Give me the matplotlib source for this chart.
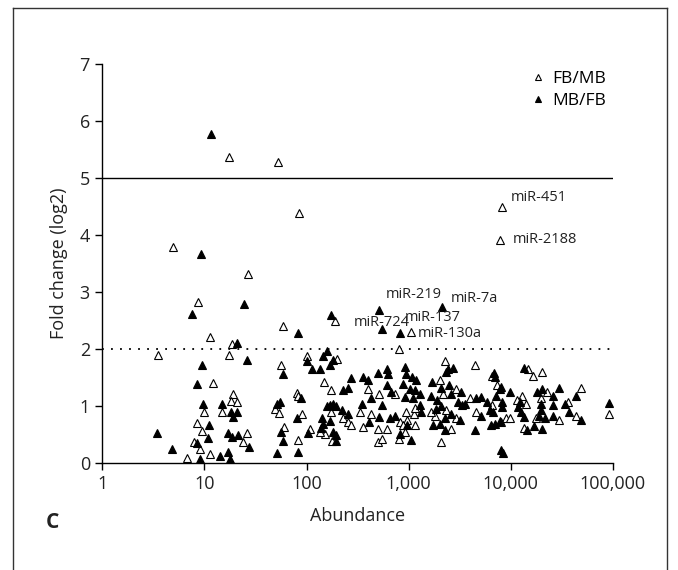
import matplotlib
matplotlib.use("Agg")
import matplotlib.pyplot as plt
from matplotlib.lines import Line2D
from matplotlib.ticker import FixedLocator, FixedFormatter

plt.rcParams["font.family"] = ["Open Sans", "DejaVu Sans"]

# FB/MB ratio (open triangles): abundance, log2 fold change
fbmb_x = [17.3, 52.5, 83.8, 4.9, 26.8, 8.6, 11.3, 3.5, 58.5, 191, 18.5, 17.3,
          8130, 7810, 1062, 801,
          12, 9.9, 8.4, 9.4, 7.9, 9.0, 6.8,
          18.9, 18.0, 20.7, 14.7, 25.9, 23.6, 11.3,
          49, 54, 56.1, 60.4, 81.6, 79.8, 82, 89.3, 101,
          197, 148, 172, 401, 731, 513, 337, 426, 353, 502, 615, 818, 805, 495,
          542, 172, 228, 255, 275, 108, 151, 135, 176,
          2256, 4436, 6607, 2015, 2172, 2937, 3963, 7330, 6600, 8920, 4604, 2624,
          2094, 2937, 1800, 1671, 2344, 951, 1122, 965, 1148, 881, 916, 1150,
          14730, 16490, 20370, 12980, 11480, 13990, 9750, 8090, 22800, 19920,
          17780, 29630, 36300, 43150, 49090, 13370, 91400]
fbmb_y = [5.37, 5.28, 4.38, 3.78, 3.31, 2.82, 2.20, 1.90, 2.40, 2.49, 2.09, 1.90,
          4.48, 3.91, 2.29, 1.99,
          1.40, 0.90, 0.70, 0.55, 0.37, 0.24, 0.09,
          1.20, 1.08, 1.07, 0.90, 0.53, 0.36, 0.16,
          0.94, 0.88, 1.71, 0.63, 0.40, 1.23, 1.18, 0.86, 1.87,
          1.83, 1.41, 1.27, 1.30, 1.20, 1.21, 0.90, 0.86, 0.63, 0.60, 0.59, 0.71, 0.41, 0.36,
          0.41, 0.90, 0.78, 0.71, 0.66, 0.59, 0.51, 0.54, 0.38,
          1.78, 1.72, 1.52, 1.45, 1.21, 1.30, 1.13, 1.37, 1.01, 0.78, 0.89, 0.60,
          0.37, 0.79, 0.82, 0.89, 0.92, 0.89, 0.86, 0.75, 0.66, 0.66, 0.54, 0.97,
          1.65, 1.52, 1.59, 1.17, 1.10, 1.04, 0.78, 0.71, 1.24, 1.14,
          0.78, 0.75, 1.07, 0.83, 1.32, 0.61, 0.86]

# MB/FB ratio (filled triangles)
mbfb_x = [11.6, 9.2, 7.6, 24.3, 21, 26.3, 175, 82, 507, 2120, 548, 824,
          9.4, 8.4, 9.7, 3.45, 8.4, 4.77, 9.0, 10.9, 11.1,
          14.7, 18.2, 20.9, 18.9, 17.1, 18.5, 21.4, 27.4, 14.2, 17.1, 17.8,
          50.8, 54.8, 59, 56, 58.2, 50.8, 82.8, 87.3, 81, 104, 100,
          157, 145.5, 182, 112, 135, 169, 275, 228, 255, 353, 401, 502, 615, 629,
          916, 937, 615, 664, 881, 423, 345, 542, 513, 410, 653, 731, 818, 973,
          169, 182, 194, 157, 220, 255, 169, 146, 137, 182, 194, 194, 143,
          1089, 1192, 2431, 2720, 2344, 6808, 6966, 1710, 1025, 1148, 1285, 1104,
          916, 1671, 2094, 2485, 1897, 2624, 3289, 3043, 3290, 3540, 4604, 5156,
          5851, 7230, 7790, 6220, 6700, 7790, 6460, 6966, 5156, 4436, 2624, 2256,
          2015, 2256, 3162, 1733, 1841, 2094, 1334, 1303, 1065, 8090, 8400,
          13370, 8090, 9750, 12210, 11750, 12700, 13370, 8280, 8280, 18040, 20370,
          25880, 29630, 19920, 19920, 18880, 21450, 25880, 25880, 33660, 37150,
          43150, 49090, 14420, 16750, 20370, 91400]
mbfb_y = [5.77, 3.66, 2.61, 2.79, 2.11, 1.80, 2.59, 2.28, 2.68, 2.74, 2.35, 2.28,
          1.72, 1.39, 1.04, 0.52, 0.34, 0.25, 0.06, 0.43, 0.66,
          1.04, 0.90, 0.90, 0.80, 0.53, 0.45, 0.48, 0.28, 0.12, 0.19, 0.06,
          1.04, 1.07, 1.56, 0.54, 0.38, 0.18, 0.19, 1.13, 0.79, 0.53, 1.78,
          1.97, 1.87, 1.80, 1.64, 1.65, 1.72, 1.48, 1.27, 1.31, 1.50, 1.45, 1.58, 1.65, 1.56,
          1.68, 1.55, 1.37, 1.25, 1.39, 1.14, 1.04, 1.01, 0.80, 0.71, 0.79, 0.83, 0.50, 0.66,
          1.01, 1.04, 1.00, 1.00, 0.92, 0.86, 0.73, 0.69, 0.61, 0.54, 0.48, 0.38, 0.78,
          1.50, 1.45, 1.65, 1.66, 1.59, 1.58, 1.50, 1.42, 1.30, 1.27, 1.20, 1.14,
          1.15, 1.18, 1.31, 1.36, 1.11, 1.20, 1.24, 1.07, 1.01, 1.04, 1.14, 1.15,
          1.07, 1.17, 1.30, 0.92, 0.89, 0.73, 0.67, 0.69, 0.83, 0.57, 0.85, 0.78,
          0.69, 0.57, 0.75, 0.66, 0.95, 1.00, 0.89, 1.01, 0.40, 0.22, 0.18,
          1.66, 1.33, 1.24, 1.07, 0.98, 0.89, 0.80, 0.98, 1.07, 1.25, 1.30,
          1.18, 1.31, 1.04, 0.92, 0.83, 0.78, 1.01, 0.83, 1.04, 0.89,
          1.18, 0.75, 0.57, 0.65, 0.59, 1.05]

# labelled miRNAs: (name, x, y, text offset in points)
labels = [
    ("miR-451", 8130, 4.48, (6.5, 7)),
    ("miR-2188", 7810, 3.91, (9, 0)),
    ("miR-219", 507, 2.68, (5, 11)),
    ("miR-7a", 2120, 2.74, (6.5, 6)),
    ("miR-724", 548, 2.35, (-20, 4.5)),
    ("miR-137", 824, 2.28, (3, 11)),
    ("miR-130a", 1062, 2.29, (4.5, -0.5)),
]

xticks = [1, 10, 100, 1000, 10000, 100000]
xticklabels = ["1", "10", "100", "1,000", "10,000", "100,000"]
yticks = list(range(8))

fig = plt.figure(figsize=(6.78, 5.70), dpi=100)
ax = fig.add_axes([0.151, 0.188, 0.753, 0.700])

ax.axhline(5, color="black", lw=1.0, zorder=1)
ax.axhline(2, color="black", lw=1.3, ls=(0, (1, 4)), zorder=1)

ax.plot(fbmb_x, fbmb_y, ls="none", marker="^", ms=6.2, mfc="white",
        mec="black", mew=0.8, zorder=3)
ax.plot(mbfb_x, mbfb_y, ls="none", marker="^", ms=6.2, mfc="black",
        mec="black", mew=0.8, zorder=3)

for name, x, y, off in labels:
    ax.annotate(name, (x, y), xytext=off, textcoords="offset points",
                ha="left", va="center", fontsize=10.5, color="#222222", zorder=4)

ax.set_xscale("log")
ax.set_xlim(1, 100000)
ax.set_ylim(0, 7)
ax.xaxis.set_major_locator(FixedLocator(xticks))
ax.xaxis.set_major_formatter(FixedFormatter(xticklabels))
ax.xaxis.set_minor_locator(FixedLocator([]))
ax.set_yticks(yticks)

for s in ("top", "right"):
    ax.spines[s].set_visible(False)
for s in ("left", "bottom"):
    ax.spines[s].set_linewidth(1.0)
ax.tick_params(axis="both", direction="out", length=5, width=1.0,
               labelsize=13, pad=4, colors="black")
ax.tick_params(axis="x", labelcolor="#222222")
ax.tick_params(axis="y", labelcolor="#222222")

ax.set_xlabel("Abundance", fontsize=13, labelpad=10, color="#222222")
ax.set_ylabel("Fold change (log2)", fontsize=13, labelpad=8, color="#222222")

handles = [
    Line2D([], [], ls="none", marker="^", ms=5, mfc="white", mec="black", mew=0.8),
    Line2D([], [], ls="none", marker="^", ms=5, mfc="black", mec="black", mew=0.8),
]
ax.legend(handles, ["FB/MB", "MB/FB"], loc="upper right", frameon=False,
          fontsize=12.5, handlelength=0.8, handletextpad=0.4, labelspacing=0.35,
          borderaxespad=0.0, bbox_to_anchor=(1.0, 1.0))

fig.text(46 / 678, 1 - 523 / 570, "C", fontsize=15, fontweight="bold",
         ha="left", va="center", color="#222222")

# panel frame (open at the bottom)
W, H = 678, 570
frame = [((13, 13), (H + 5, 8)), ((13, 667), (8, 8)), ((667, 667), (8, H + 5))]
for xs, ys in frame:
    fig.add_artist(Line2D([xs[0] / W, xs[1] / W], [1 - ys[0] / H, 1 - ys[1] / H],
                          color="#333333", lw=1.0))

fig.savefig("out.png", dpi=100)
